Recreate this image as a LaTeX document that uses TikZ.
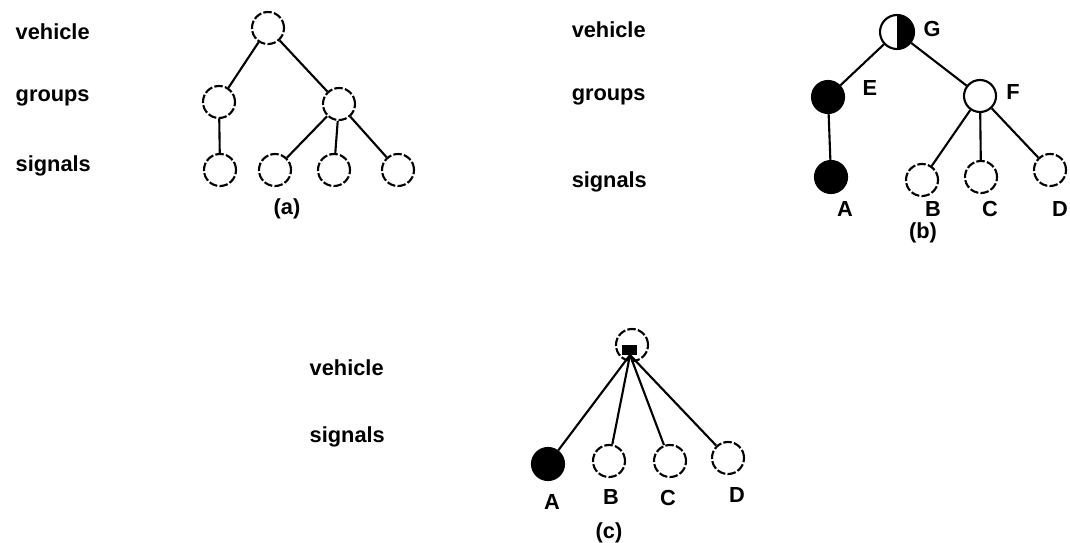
\documentclass[tikz,border=0pt]{standalone}
\usepackage{fontspec}
\setmainfont{Liberation Sans}

\tikzset{
  open/.style={circle, draw, minimum size=0.8cm, inner sep=0pt, dash pattern=on 6pt off 1.6pt},
  full/.style={circle, draw, fill=black, minimum size=0.8cm, inner sep=0pt},
  half/.style={circle, draw, minimum size=0.85cm, inner sep=0pt,
    path picture={\fill[black] (path picture bounding box.north) rectangle (path picture bounding box.south east);}},
  lvl/.style={anchor=west, font=\fontsize{15.5}{18}\selectfont\bfseries},
  tag/.style={font=\fontsize{15.5}{18}\selectfont\bfseries}
}

\begin{document}
\begin{tikzpicture}[x=0.025cm, y=-0.025cm, line width=1.5pt]
    \useasboundingbox (0,0) rectangle (1070,543);

    % (a) vehicle -> groups -> signals
    \node[lvl] (av) at (10,32) {vehicle};
    \node[lvl] (ag) at (10,98) {groups};
    \node[lvl] (as) at (10,166) {signals};

    \node[open] (a0) at (268,28) {};
    \node[open] (a1) at (219,102) {};
    \node[open] (a2) at (339,104) {};
    \foreach \n/\x in {1/220,2/275,3/334,4/398}
        \node[open] (as\n) at (\x,170) {};
    \node[tag] (acap) at (287,209) {(a)};

    \draw (a0) -- (a1);
    \draw (a0) -- (a2);
    \draw (a1) -- (as1);
    \foreach \n in {2,3,4}
        \draw (a2) -- (as\n);

    % (b) the same tree with A, E, G lit
    \node[lvl] (bv) at (566,30) {vehicle};
    \node[lvl] (bg) at (566,97) {groups};
    \node[lvl] (bs) at (566,182) {signals};

    \node[half] (G) at (897,32) {};
    \node[full] (E) at (828,97) {};
    \node[open, solid] (F) at (980,96) {};
    \node[full] (A) at (831,177) {};
    \node[open] (B) at (922,180) {};
    \node[open] (C) at (981,177) {};
    \node[open] (D) at (1050,170) {};

    \node[tag] at (932,29) {G};
    \node[tag] at (870,88) {E};
    \node[tag] at (1013,92) {F};
    \foreach \n/\x in {A/845,B/933,C/990,D/1060}
        \node[tag] at (\x,209) {\n};
    \node[tag] (bcap) at (923,233) {(b)};

    \draw (G) -- (E);
    \draw (G) -- (F);
    \draw (E) -- (A);
    \foreach \n in {B,C,D}
        \draw (F) -- (\n);

    % (c) groups left out
    \node[lvl] (cv) at (304,368) {vehicle};
    \node[lvl] (cs) at (304,437) {signals};

    \node[open] (V) at (632,345) {};
    \fill[black] ([shift={(-10,0)}]V.center) rectangle ++(15,10);
    \coordinate (hub) at (630,355);

    \node[full] (cA) at (548,464) {};
    \node[open] (cB) at (609,461) {};
    \node[open] (cC) at (670,461) {};
    \node[open] (cD) at (728,458) {};

    \foreach \n/\x/\y in {A/552/502,B/611/497,C/668/498,D/737/495}
        \node[tag] at (\x,\y) {\n};
    \node[tag] (ccap) at (609,533) {(c)};

    \foreach \n in {cA,cB,cC,cD}
        \draw (hub) -- (\n);
\end{tikzpicture}
\end{document}
